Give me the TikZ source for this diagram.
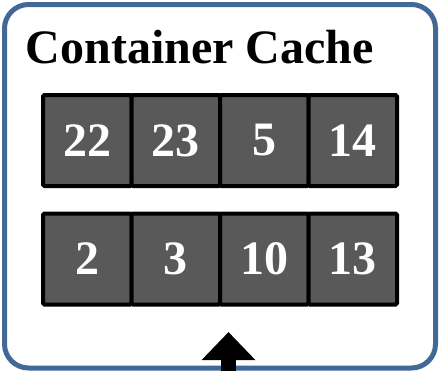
\documentclass[tikz,border=0pt]{standalone}
\usepackage{fontspec}
\setmainfont{Liberation Serif}
\usepackage{tikz}
\usetikzlibrary{arrows.meta}
\definecolor{frameblue}{RGB}{65,104,150}
\definecolor{cellgray}{RGB}{89,89,89}
\newcommand{\cellfont}{\fontsize{48}{48}\selectfont\bfseries}
\tikzstyle{cell}=[draw, line width=4pt, fill=cellgray, text=white, rounded corners=1.5pt,
                  minimum width=88.5pt, minimum height=91pt, inner sep=0, font=\cellfont]
\tikzstyle{cachebox}=[draw=frameblue, line width=5pt, rounded corners=24pt,
                      minimum width=431pt, minimum height=363.5pt, inner sep=0]
\tikzstyle{cachepic}=[x=1pt, y=-1pt,
                      % keep the page at the size of the picture
                      execute at begin picture={\useasboundingbox (0,0) rectangle (443,370);}]

\begin{document}
\begin{tikzpicture}[cachepic]
        \node[cachebox] (cache) at (220, 186.25) {};
        \node[anchor=base west, inner sep=0, font=\cellfont] (title) at (25.5, 63) {Container Cache};
        % upper row
        \node[cell] (T1) at (87.25, 140.5) {22};
        \node[cell] (T2) at (175.75, 140.5) {23};
        \node[cell] (T3) at (264.25, 140.5) {5};
        \node[cell] (T4) at (352.75, 140.5) {14};
        % lower row
        \node[cell] (B1) at (87.25, 259) {2};
        \node[cell] (B2) at (175.75, 259) {3};
        \node[cell] (B3) at (264.25, 259) {10};
        \node[cell] (B4) at (352.75, 259) {13};
        \coordinate (feed) at (228.5, 371);
        \coordinate (tip) at (228.5, 332);
        \draw[line width=15pt, -{Triangle[width=52pt, length=28pt]}] (feed) -- (tip);
    \end{tikzpicture}
\end{document}
